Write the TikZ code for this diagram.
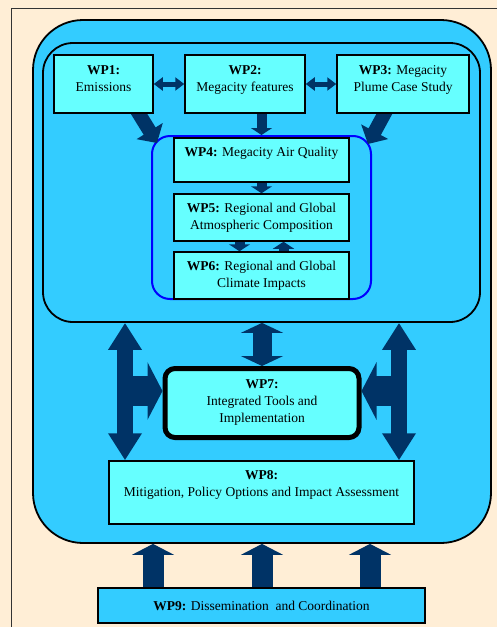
\documentclass[tikz,border=0pt]{standalone}
\usepackage{fontspec}
\setmainfont{Liberation Serif}
\definecolor{wpcream}{RGB}{255,238,214}
\definecolor{wpsky}{RGB}{51,204,255}
\definecolor{wpcyan}{RGB}{102,255,255}
\definecolor{wpnavy}{RGB}{0,51,102}
\definecolor{wpblue}{RGB}{0,0,255}
\usetikzlibrary{arrows.meta,positioning}
\pgfdeclarelayer{background}
\pgfdeclarelayer{links}
\pgfsetlayers{background,links,main}

\begin{document}
\begin{tikzpicture}[x=1pt, y=-1pt, font=\fontsize{13.5}{17}\selectfont,
  wpbox/.style={draw=black, line width=1.5pt, fill=wpcyan, align=center, inner sep=0pt},
  shell/.style={draw=black, line width=1.8pt, fill=wpsky},
  fatone/.style n args={3}{draw=wpnavy, line width=#1, -{Triangle[width=#2, length=#3]}},
  fattwo/.style n args={3}{draw=wpnavy, line width=#1, {Triangle[width=#2, length=#3]}-{Triangle[width=#2, length=#3]}}]

  \useasboundingbox (0,0) rectangle (497,627);

  %% Page, frame and the nested containers
  \begin{pgfonlayer}{background}
  \fill[wpcream] (0,0) rectangle (497,627);
  \draw[line width=0.8pt, black!80] (11,8) rectangle (520,650);
  \node[shell, rounded corners=50pt, minimum width=458pt, minimum height=523pt] (outer) at (262,281.5) {};
  \node[shell, rounded corners=30pt, minimum width=437pt, minimum height=279pt] (inner) at (261.5,182.5) {};
  \node[draw=wpblue, line width=2pt, fill=wpsky, rounded corners=18pt, minimum width=219pt, minimum height=163pt] (grp) at (261.5,217.5) {};
  \end{pgfonlayer}

  %% Work packages
  \node[wpbox, minimum width=99pt,  minimum height=58pt] (wp1) at (103.5,84) {\textbf{WP1:}\\Emissions\\[-6pt]~};
  \node[wpbox, minimum width=120pt, minimum height=58pt] (wp2) at (245,84)   {\textbf{WP2:}\\Megacity features\\[-6pt]~};
  \node[wpbox, minimum width=132pt, minimum height=58pt] (wp3) at (403,84)   {\textbf{WP3:} Megacity\\Plume Case Study\\[-6pt]~};
  \node[wpbox, minimum width=175pt, minimum height=44pt] (wp4) at (261.5,160)   {\textbf{WP4:} Megacity Air Quality\\~};
  \node[wpbox, minimum width=175pt, minimum height=47pt] (wp5) at (261.5,217.5) {\textbf{WP5:} Regional and Global\\Atmospheric Composition};
  \node[wpbox, minimum width=175pt, minimum height=47pt] (wp6) at (261.5,275.5) {\textbf{WP6:} Regional and Global\\Climate Impacts};
  \node[wpbox, line width=5pt, rounded corners=10pt, minimum width=194pt, minimum height=69pt] (wp7) at (262,403) {\textbf{WP7:}\\Integrated Tools and\\Implementation};
  \node[wpbox, minimum width=305pt, minimum height=63pt] (wp8) at (261.5,492.5) {\textbf{WP8:}\\Mitigation, Policy Options and Impact Assessment\\~};
  \node[wpbox, fill=wpsky, minimum width=327pt, minimum height=35pt] (wp9) at (261.5,605.5) {\textbf{WP9:} Dissemination~ and Coordination};

  %% Free ends of the arrows
  \coordinate (t1) at (157,143);
  \coordinate (t3) at (368,144);
  \coordinate (lh) at (125,391);
  \coordinate (rh) at (399,391);

  %% Links
  \begin{pgfonlayer}{links}
  \draw[fattwo={5pt}{13pt}{9pt}] (wp1) -- (wp2);
  \draw[fattwo={5pt}{13pt}{9pt}] (wp2) -- (wp3);
  \draw[fatone={14pt}{30pt}{14pt}, shorten <=-6pt] (wp1.-40) -- (t1);
  \draw[fatone={14pt}{30pt}{14pt}, shorten <=-6pt] (wp3.-122) -- (t3);
  \draw[fatone={10pt}{21pt}{7pt}] (grp.north |- wp2.south) -- (grp.north);
  \draw[fatone={10pt}{21pt}{7pt}] (wp4) -- (wp5);
  \draw[fatone={10pt}{21pt}{7pt}] ([xshift=-22pt]wp5.south) -- ([xshift=-22pt]wp6.north);
  \draw[fatone={10pt}{21pt}{7pt}] ([xshift=22pt]wp6.north) -- ([xshift=22pt]wp5.south);

  \draw[fattwo={19pt}{42pt}{10pt}] (wp7.north |- inner.south) -- (wp7.north);
  \draw[fattwo={16pt}{32pt}{27pt}] (lh |- inner.south) -- (lh |- wp8.north);
  \draw[fatone={30pt}{57pt}{15pt}] (lh) -- (wp7.west |- lh);
  \draw[fattwo={16pt}{32pt}{27pt}] (rh |- inner.south) -- (rh |- wp8.north);
  \draw[fatone={30pt}{57pt}{15pt}] (rh) -- (wp7.east |- rh);

  \foreach \ux [count=\i] in {153,262,370} {
    \coordinate (up\i) at (\ux,570);
    \draw[fatone={21pt}{42pt}{11pt}] (up\i |- wp9.north) -- (up\i |- outer.south);
  }
  \end{pgfonlayer}
\end{tikzpicture}
\end{document}
